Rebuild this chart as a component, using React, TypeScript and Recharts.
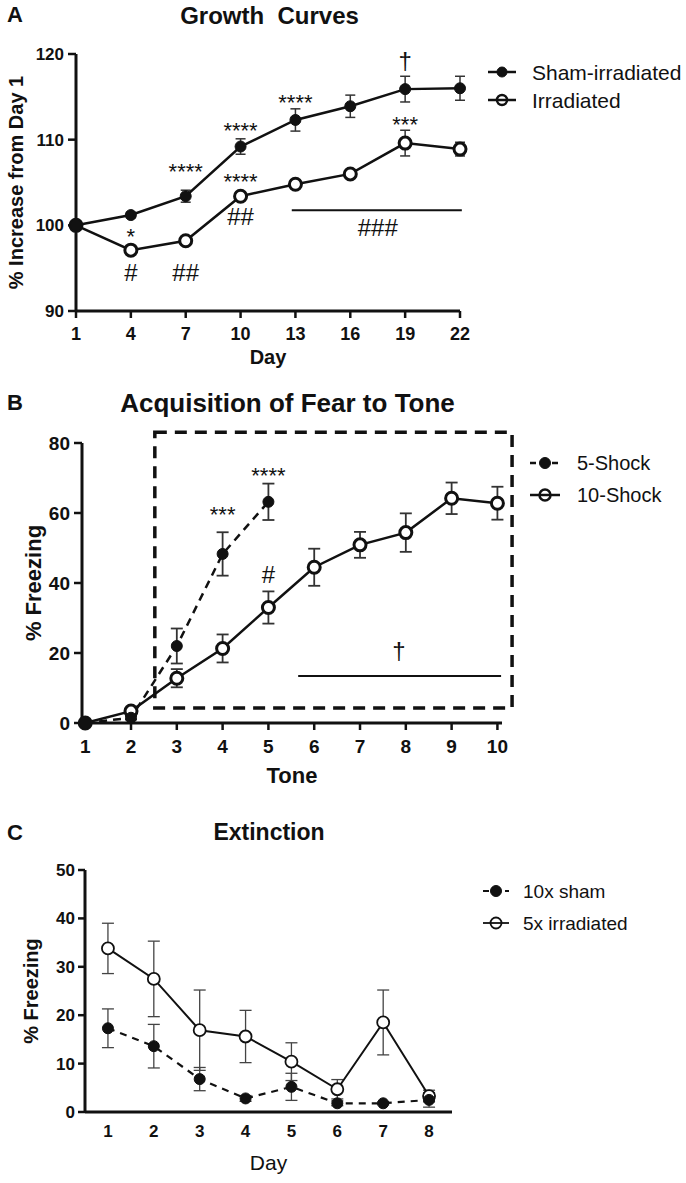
import React from 'react';
import {
  LineChart,
  Line,
  XAxis,
  YAxis,
  ErrorBar,
  Legend,
  Label,
  ReferenceDot,
  ReferenceLine,
  ReferenceArea,
} from 'recharts';

const FONT = '"Liberation Sans", Arial, Helvetica, sans-serif';
const INK = '#111';

// ---- Panel A: growth curves ----
const growthDays = [1, 4, 7, 10, 13, 16, 19, 22];
const shamGrowth = [100, 101.2, 103.4, 109.2, 112.3, 113.9, 115.9, 116.0];
const shamGrowthSem = [0, 0.3, 0.7, 0.9, 1.3, 1.3, 1.5, 1.4];
const irrGrowth = [100, 97.1, 98.2, 103.4, 104.8, 106.0, 109.6, 108.9];
const irrGrowthSem = [0, 0.3, 0.3, 0.4, 0.5, 0.4, 1.5, 0.8];
const growthYTicks = [90, 100, 110, 120];
const growthMarks = [
  { x: 4, y: 98.7, text: '*' },
  { x: 4, y: 94.5, text: '#' },
  { x: 7, y: 94.5, text: '##' },
  { x: 7, y: 106.3, text: '****' },
  { x: 10, y: 111.1, text: '****' },
  { x: 10, y: 105.2, text: '****' },
  { x: 10, y: 101.05, text: '##' },
  { x: 13, y: 114.4, text: '****' },
  { x: 19, y: 119.3, text: '†' },
  { x: 19, y: 111.8, text: '***' },
  { x: 17.5, y: 99.8, text: '###' },
];
const growthBar = { x1: 12.8, x2: 22.1, y: 101.75 };

// ---- Panel B: acquisition ----
const tones = [1, 2, 3, 4, 5, 6, 7, 8, 9, 10];
const shock5 = [0, 1.5, 22, 48.3, 63.2];
const shock5Sem = [0, 0.5, 5, 6.2, 5.2];
const shock10 = [0, 3.4, 12.8, 21.3, 33, 44.5, 50.9, 54.4, 64.2, 62.8];
const shock10Sem = [0, 0.5, 2.6, 4, 4.6, 5.3, 3.7, 5.5, 4.5, 4.7];
const acqYTicks = [0, 20, 40, 60, 80];
const acqMarks = [
  { x: 4, y: 59.8, text: '***' },
  { x: 5, y: 70.7, text: '****' },
  { x: 5, y: 42.3, text: '#' },
  { x: 7.85, y: 20.7, text: '†' },
];
const acqBar = { x1: 5.65, x2: 10.08, y: 13.4 };
const acqBox = { x1: 2.52, x2: 10.32, y1: 4.3, y2: 83.1 };

// ---- Panel C: extinction ----
const extDays = [1, 2, 3, 4, 5, 6, 7, 8];
const sham10x = [17.3, 13.6, 6.8, 2.8, 5.2, 1.8, 1.8, 2.5];
const sham10xSem = [4, 4.5, 2.4, 0.6, 2.8, 0.5, 0.3, 1.5];
const irr5x = [33.8, 27.5, 16.9, 15.6, 10.4, 4.7, 18.5, 3.3];
const irr5xSem = [5.2, 7.8, 8.3, 5.4, 3.9, 2, 6.7, 1.2];
const extYTicks = [0, 10, 20, 30, 40, 50];

const growthData = growthDays.map((day, i) => ({
  day,
  sham: shamGrowth[i],
  shamSem: shamGrowthSem[i],
  irr: irrGrowth[i],
  irrSem: irrGrowthSem[i],
}));

const acqData = tones.map((tone, i) => ({
  tone,
  s5: i < shock5.length ? shock5[i] : null,
  s5Sem: i < shock5.length ? shock5Sem[i] : null,
  s10: shock10[i],
  s10Sem: shock10Sem[i],
}));

const extData = extDays.map((day, i) => ({
  day,
  sham: sham10x[i],
  shamSem: sham10xSem[i],
  irr: irr5x[i],
  irrSem: irr5xSem[i],
}));

const axisLine = { stroke: INK, strokeWidth: 3 };
const tickLine = { stroke: INK, strokeWidth: 2.5 };

type LegendEntry = { name: string; dashed: boolean; open: boolean };
type LegendOpts = { rowH: number; w: number; gap: number; fontSize: number; sw: number; r: number };

function makeLegend(entries: LegendEntry[], o: LegendOpts) {
  return () => (
    <div style={{ fontFamily: FONT, fontSize: o.fontSize, color: INK }}>
      {entries.map((e) => (
        <div key={e.name} style={{ display: 'flex', alignItems: 'center', height: o.rowH }}>
          <svg width={o.w} height={o.rowH} style={{ display: 'block', flex: 'none' }}>
            <line
              x1={2}
              x2={o.w - 2}
              y1={o.rowH / 2}
              y2={o.rowH / 2}
              stroke={INK}
              strokeWidth={o.sw}
              strokeDasharray={e.dashed ? '6 5' : undefined}
            />
            <circle
              cx={o.w / 2}
              cy={o.rowH / 2}
              r={o.r}
              fill={e.open ? 'none' : INK}
              stroke={INK}
              strokeWidth={e.open ? o.sw : 1}
            />
          </svg>
          <span style={{ marginLeft: o.gap, lineHeight: 1, whiteSpace: 'nowrap' }}>{e.name}</span>
        </div>
      ))}
    </div>
  );
}

function Title({ text, x, cy, size, center = true }: { text: string; x: number; cy: number; size: number; center?: boolean }) {
  return (
    <div
      style={{
        position: 'absolute',
        left: x,
        top: cy - 0.49 * size,
        transform: center ? 'translateX(-50%)' : undefined,
        fontSize: size,
        lineHeight: `${size}px`,
        fontWeight: 'bold',
        whiteSpace: 'pre',
        color: INK,
      }}
    >
      {text}
    </div>
  );
}

// significance marks: stars a little smaller than # and dagger
function marks(list: { x: number; y: number; text: string }[]) {
  return list.map((m, i) => (
    <ReferenceDot
      key={`m${i}`}
      x={m.x}
      y={m.y}
      r={0}
      ifOverflow="visible"
      label={{ value: m.text, position: 'center', fontSize: m.text.includes('*') ? 22 : 24, fill: INK }}
    />
  ));
}

function GrowthChart() {
  return (
    <LineChart width={686} height={380} data={growthData} margin={{ top: 54, right: 226, bottom: 29, left: 16 }}>
      <XAxis
        dataKey="day"
        type="number"
        domain={[1, 22]}
        ticks={growthDays}
        interval={0}
        height={40}
        axisLine={axisLine}
        tickLine={tickLine}
        tickSize={7}
        tickMargin={9}
        tick={{ fontSize: 18, fontWeight: 'bold', fill: INK }}
      >
        <Label value="Day" position="insideBottom" offset={-13} fontSize={20} fontWeight="bold" fill={INK} />
      </XAxis>
      <YAxis
        type="number"
        domain={[90, 120]}
        ticks={growthYTicks}
        interval={0}
        width={60}
        axisLine={axisLine}
        tickLine={tickLine}
        tickSize={8}
        tickMargin={4}
        tick={{ fontSize: 17, fontWeight: 'bold', fill: INK }}
      >
        <Label
          value="% Increase from Day 1"
          angle={-90}
          position="insideLeft"
          offset={0}
          fontSize={20}
          fontWeight="bold"
          fill={INK}
          style={{ textAnchor: 'middle' }}
        />
      </YAxis>
      <ReferenceLine
        segment={[
          { x: growthBar.x1, y: growthBar.y },
          { x: growthBar.x2, y: growthBar.y },
        ]}
        stroke={INK}
        strokeWidth={2}
        ifOverflow="visible"
      />
      <Line
        dataKey="irr"
        name="Irradiated"
        stroke={INK}
        strokeWidth={2.5}
        isAnimationActive={false}
        activeDot={false}
        dot={{ r: 6, fill: '#fff', stroke: INK, strokeWidth: 3 }}
      >
        <ErrorBar dataKey="irrSem" direction="y" width={5} stroke="#333" strokeWidth={1.5} />
      </Line>
      <Line
        dataKey="sham"
        name="Sham-irradiated"
        stroke={INK}
        strokeWidth={2.5}
        isAnimationActive={false}
        activeDot={false}
        dot={{ r: 5.5, fill: INK, stroke: INK, strokeWidth: 1 }}
      >
        <ErrorBar dataKey="shamSem" direction="y" width={5} stroke="#333" strokeWidth={1.5} />
      </Line>
      {marks(growthMarks)}
      <Legend
        layout="horizontal"
        verticalAlign="middle"
        align="center"
        wrapperStyle={{ left: 486, top: 58, width: 200 }}
        content={makeLegend(
          [
            { name: 'Sham-irradiated', dashed: false, open: false },
            { name: 'Irradiated', dashed: false, open: true },
          ],
          { rowH: 28, w: 32, gap: 14, fontSize: 21, sw: 2.5, r: 5 }
        )}
      />
    </LineChart>
  );
}

function AcquisitionChart() {
  return (
    <LineChart width={686} height={420} data={acqData} margin={{ top: 73, right: 184, bottom: 17, left: 22 }}>
      <XAxis
        dataKey="tone"
        type="number"
        domain={[0.93, 10.1]}
        ticks={tones}
        interval={0}
        height={50}
        axisLine={axisLine}
        tickLine={tickLine}
        tickSize={7}
        tickMargin={10}
        tick={{ fontSize: 19, fontWeight: 'bold', fill: INK }}
      >
        <Label value="Tone" position="insideBottom" offset={-10} fontSize={22} fontWeight="bold" fill={INK} />
      </XAxis>
      <YAxis
        type="number"
        domain={[0, 80]}
        ticks={acqYTicks}
        interval={0}
        width={60}
        axisLine={axisLine}
        tickLine={tickLine}
        tickSize={8}
        tickMargin={4}
        tick={{ fontSize: 19, fontWeight: 'bold', fill: INK }}
      >
        <Label
          value="% Freezing"
          angle={-90}
          position="insideLeft"
          offset={11}
          fontSize={22}
          fontWeight="bold"
          fill={INK}
          style={{ textAnchor: 'middle' }}
        />
      </YAxis>
      <ReferenceArea
        x1={acqBox.x1}
        x2={acqBox.x2}
        y1={acqBox.y1}
        y2={acqBox.y2}
        fill="none"
        stroke={INK}
        strokeWidth={3.5}
        strokeDasharray="12 8"
        ifOverflow="visible"
      />
      <ReferenceLine
        segment={[
          { x: acqBar.x1, y: acqBar.y },
          { x: acqBar.x2, y: acqBar.y },
        ]}
        stroke={INK}
        strokeWidth={2}
        ifOverflow="visible"
      />
      <Line
        dataKey="s10"
        name="10-Shock"
        stroke={INK}
        strokeWidth={2.5}
        isAnimationActive={false}
        activeDot={false}
        dot={{ r: 6, fill: '#fff', stroke: INK, strokeWidth: 3 }}
      >
        <ErrorBar dataKey="s10Sem" direction="y" width={6} stroke="#333" strokeWidth={1.8} />
      </Line>
      <Line
        dataKey="s5"
        name="5-Shock"
        stroke={INK}
        strokeWidth={2.5}
        strokeDasharray="8 6"
        isAnimationActive={false}
        activeDot={false}
        dot={{ r: 5.5, fill: INK, stroke: INK, strokeWidth: 1, strokeDasharray: 'none' }}
      >
        <ErrorBar dataKey="s5Sem" direction="y" width={6} stroke="#333" strokeWidth={1.8} />
      </Line>
      {marks(acqMarks)}
      <Legend
        layout="horizontal"
        verticalAlign="middle"
        align="center"
        wrapperStyle={{ left: 528, top: 77, width: 158 }}
        content={makeLegend(
          [
            { name: '5-Shock', dashed: true, open: false },
            { name: '10-Shock', dashed: false, open: true },
          ],
          { rowH: 32, w: 34, gap: 15, fontSize: 20, sw: 2.5, r: 5.5 }
        )}
      />
    </LineChart>
  );
}

function ExtinctionChart() {
  return (
    <LineChart width={686} height={393} data={extData} margin={{ top: 80, right: 234, bottom: 21, left: 25 }}>
      <XAxis
        dataKey="day"
        type="number"
        domain={[0.5, 8.5]}
        ticks={extDays}
        interval={0}
        height={50}
        axisLine={axisLine}
        tickLine={false}
        tickSize={0}
        tickMargin={13}
        tick={{ fontSize: 17, fontWeight: 'bold', fill: INK }}
      >
        <Label value="Day" position="insideBottom" offset={-8} fontSize={21} fill={INK} />
      </XAxis>
      <YAxis
        type="number"
        domain={[0, 50]}
        ticks={extYTicks}
        interval={0}
        width={60}
        axisLine={axisLine}
        tickLine={tickLine}
        tickSize={7}
        tickMargin={3}
        tick={{ fontSize: 17, fontWeight: 'bold', fill: INK }}
      >
        <Label
          value="% Freezing"
          angle={-90}
          position="insideLeft"
          offset={6}
          fontSize={20}
          fontWeight="bold"
          fill={INK}
          style={{ textAnchor: 'middle' }}
        />
      </YAxis>
      <Line
        dataKey="irr"
        name="5x irradiated"
        stroke={INK}
        strokeWidth={2}
        isAnimationActive={false}
        activeDot={false}
        dot={{ r: 6, fill: '#fff', stroke: INK, strokeWidth: 1.8 }}
      >
        <ErrorBar dataKey="irrSem" direction="y" width={6} stroke="#444" strokeWidth={1.3} />
      </Line>
      <Line
        dataKey="sham"
        name="10x sham"
        stroke={INK}
        strokeWidth={2.2}
        strokeDasharray="7 6"
        isAnimationActive={false}
        activeDot={false}
        dot={{ r: 5.5, fill: INK, stroke: INK, strokeWidth: 1, strokeDasharray: 'none' }}
      >
        <ErrorBar dataKey="shamSem" direction="y" width={6} stroke="#444" strokeWidth={1.3} />
      </Line>
      <Legend
        layout="horizontal"
        verticalAlign="middle"
        align="center"
        wrapperStyle={{ left: 481, top: 85, width: 205 }}
        content={makeLegend(
          [
            { name: '10x sham', dashed: true, open: false },
            { name: '5x irradiated', dashed: false, open: true },
          ],
          { rowH: 32, w: 30, gap: 12, fontSize: 19, sw: 1.8, r: 5.5 }
        )}
      />
    </LineChart>
  );
}

export default function App() {
  return (
    <div
      style={{
        position: 'absolute',
        left: 0,
        top: 0,
        width: 686,
        height: 1183,
        background: '#fff',
        fontFamily: FONT,
        overflow: 'hidden',
      }}
    >
      <div style={{ position: 'absolute', left: 0, top: 0, width: 686, height: 380 }}>
        <GrowthChart />
      </div>
      <div style={{ position: 'absolute', left: 0, top: 370, width: 686, height: 420 }}>
        <AcquisitionChart />
      </div>
      <div style={{ position: 'absolute', left: 0, top: 790, width: 686, height: 393 }}>
        <ExtinctionChart />
      </div>
      <Title text="A" x={7} cy={14.5} size={22} center={false} />
      <Title text="Growth  Curves" x={269.5} cy={15.5} size={24} />
      <Title text="B" x={7} cy={402.5} size={22} center={false} />
      <Title text="Acquisition of Fear to Tone" x={287.5} cy={402.5} size={26} />
      <Title text="C" x={7} cy={832.5} size={22} center={false} />
      <Title text="Extinction" x={269} cy={832.5} size={23} />
    </div>
  );
}
